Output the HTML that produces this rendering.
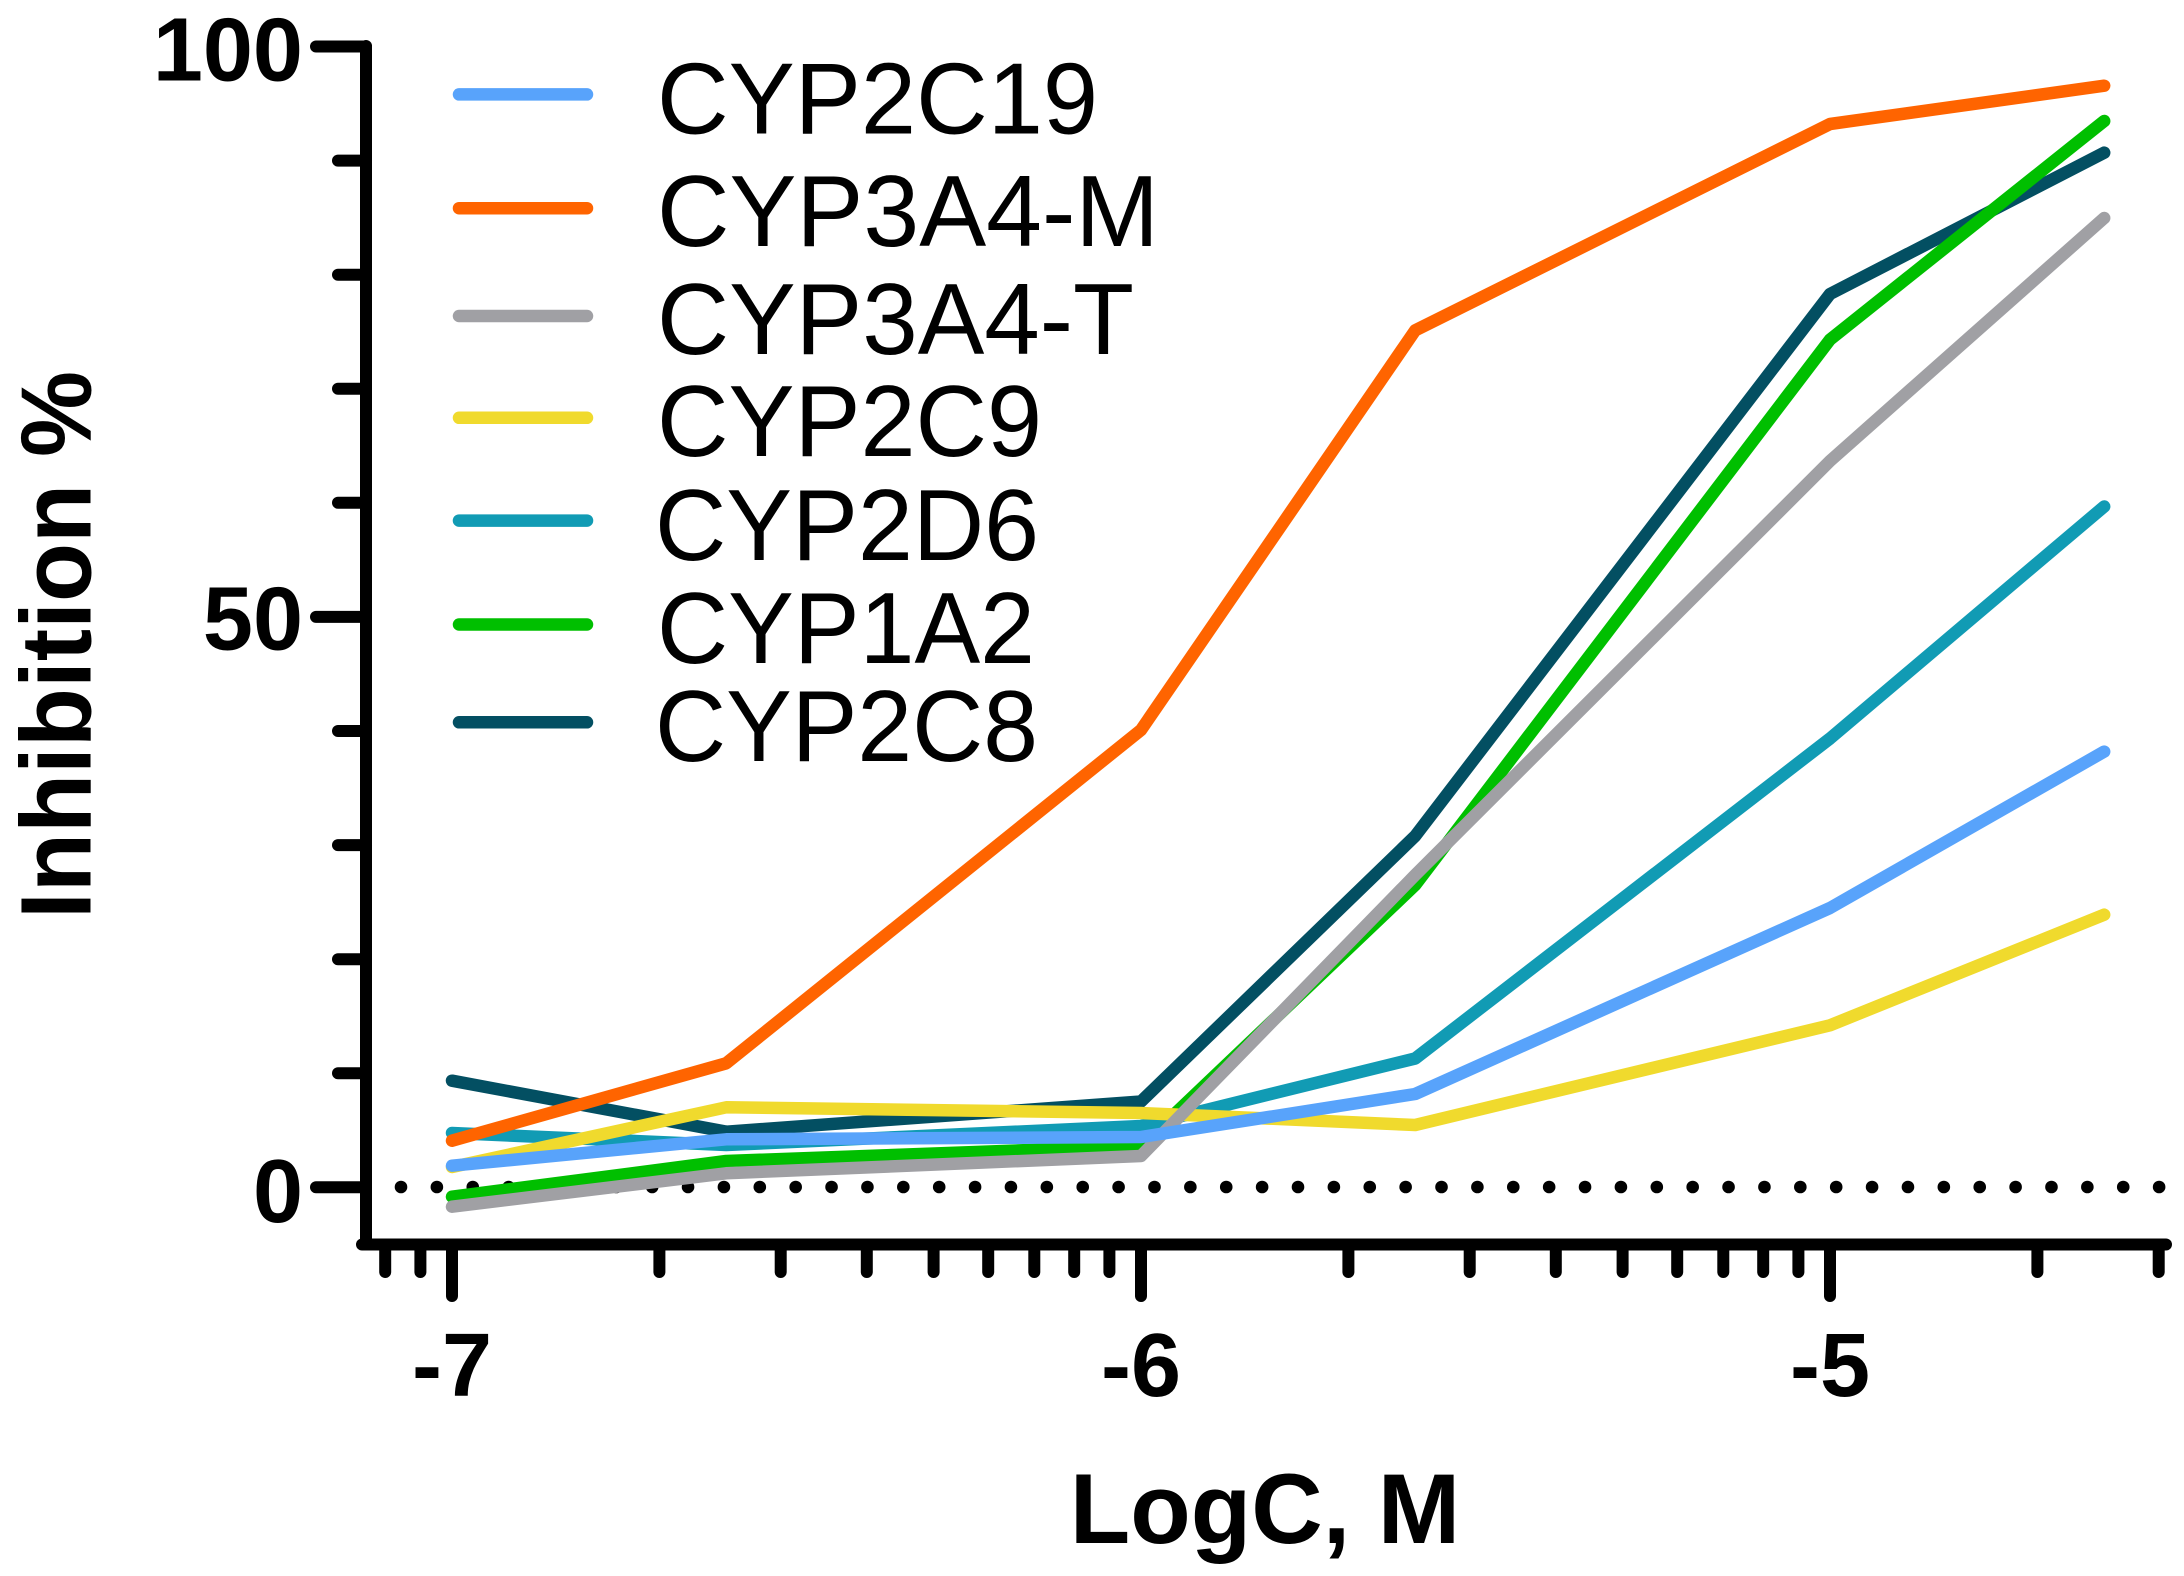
<!DOCTYPE html>
<html>
<head>
<meta charset="utf-8">
<style>
  html, body { margin: 0; padding: 0; background: #ffffff; }
  svg { display: block; }
  text { font-family: "Liberation Sans", Arial, sans-serif; fill: #000; }
</style>
</head>
<body>
<svg width="2184" height="1576" viewBox="0 0 2184 1576" xmlns="http://www.w3.org/2000/svg">
  <rect x="0" y="0" width="2184" height="1576" fill="#ffffff"/>

  <!-- dotted zero line -->
  <line x1="401" y1="1187" x2="2160" y2="1187" stroke="#000" stroke-width="12.6" stroke-linecap="round" stroke-dasharray="0 35.88"/>

  <!-- data series (drawn in reverse legend order) -->
  <g fill="none" stroke-width="12.5" stroke-linecap="round" stroke-linejoin="round">
    <!-- CYP2C8 -->
    <polyline stroke="#034F62" points="452,1080.7 726.2,1131.7 1141,1101.5 1415.2,836 1830,294 2104.2,152.7"/>
    <!-- CYP1A2 -->
    <polyline stroke="#00BF00" points="452,1196.7 726.2,1161 1141,1146 1415.2,885 1830,339.6 2104.2,121"/>
    <!-- CYP2D6 -->
    <polyline stroke="#119BB4" points="452,1133 726.2,1145 1141,1126 1415.2,1058.5 1830,738.5 2104.2,506.5"/>
    <!-- CYP2C9 -->
    <polyline stroke="#F0DA2D" points="452,1167 726.2,1107.3 1141,1113 1415.2,1125 1830,1025.3 2104.2,914.7"/>
    <!-- CYP3A4-T -->
    <polyline stroke="#A0A0A4" points="452,1206.7 726.2,1173.3 1141,1156 1415.2,875 1830,461 2104.2,218"/>
    <!-- CYP3A4-M -->
    <polyline stroke="#FF6400" points="452,1140.7 726.2,1063.3 1141,730 1415.2,330.4 1830,124 2104.2,85.7"/>
    <!-- CYP2C19 -->
    <polyline stroke="#58A3FB" points="452,1165.7 726.2,1139.3 1141,1137 1415.2,1094 1830,908 2104.2,751.6"/>
  </g>

  <!-- axes -->
  <g stroke="#000" stroke-width="12" stroke-linecap="round" fill="none">
    <line x1="366" y1="46" x2="366" y2="1244.5"/>
    <line x1="362" y1="1244.5" x2="2166" y2="1244.5"/>
    <!-- y major ticks -->
    <line x1="316" y1="46.5" x2="366" y2="46.5"/>
    <line x1="316" y1="616.9" x2="366" y2="616.9"/>
    <line x1="316" y1="1187.3" x2="366" y2="1187.3"/>
    <!-- y minor ticks -->
    <line x1="338" y1="160.6" x2="366" y2="160.6"/>
    <line x1="338" y1="274.7" x2="366" y2="274.7"/>
    <line x1="338" y1="388.7" x2="366" y2="388.7"/>
    <line x1="338" y1="502.8" x2="366" y2="502.8"/>
    <line x1="338" y1="731" x2="366" y2="731"/>
    <line x1="338" y1="845.1" x2="366" y2="845.1"/>
    <line x1="338" y1="959.2" x2="366" y2="959.2"/>
    <line x1="338" y1="1073.2" x2="366" y2="1073.2"/>
    <!-- x major ticks -->
    <line x1="452" y1="1244.5" x2="452" y2="1296"/>
    <line x1="1141" y1="1244.5" x2="1141" y2="1296"/>
    <line x1="1830" y1="1244.5" x2="1830" y2="1296"/>
    <!-- x minor ticks -->
    <line x1="385.2" y1="1244.5" x2="385.2" y2="1272"/>
    <line x1="420.4" y1="1244.5" x2="420.4" y2="1272"/>
    <line x1="659.4" y1="1244.5" x2="659.4" y2="1272"/>
    <line x1="780.7" y1="1244.5" x2="780.7" y2="1272"/>
    <line x1="866.8" y1="1244.5" x2="866.8" y2="1272"/>
    <line x1="933.6" y1="1244.5" x2="933.6" y2="1272"/>
    <line x1="988.2" y1="1244.5" x2="988.2" y2="1272"/>
    <line x1="1034.3" y1="1244.5" x2="1034.3" y2="1272"/>
    <line x1="1074.2" y1="1244.5" x2="1074.2" y2="1272"/>
    <line x1="1109.4" y1="1244.5" x2="1109.4" y2="1272"/>
    <line x1="1348.4" y1="1244.5" x2="1348.4" y2="1272"/>
    <line x1="1469.7" y1="1244.5" x2="1469.7" y2="1272"/>
    <line x1="1555.8" y1="1244.5" x2="1555.8" y2="1272"/>
    <line x1="1622.6" y1="1244.5" x2="1622.6" y2="1272"/>
    <line x1="1677.2" y1="1244.5" x2="1677.2" y2="1272"/>
    <line x1="1723.3" y1="1244.5" x2="1723.3" y2="1272"/>
    <line x1="1763.2" y1="1244.5" x2="1763.2" y2="1272"/>
    <line x1="1798.4" y1="1244.5" x2="1798.4" y2="1272"/>
    <line x1="2037.4" y1="1244.5" x2="2037.4" y2="1272"/>
    <line x1="2158.7" y1="1244.5" x2="2158.7" y2="1272"/>
  </g>

  <!-- y tick labels -->
  <g font-weight="bold" font-size="90" text-anchor="end">
    <text x="303" y="80.5">100</text>
    <text x="303" y="649.5">50</text>
    <text x="303" y="1222">0</text>
  </g>

  <!-- x tick labels -->
  <g font-weight="bold" font-size="90" text-anchor="middle">
    <text x="452" y="1396">-7</text>
    <text x="1141" y="1396">-6</text>
    <text x="1830" y="1396">-5</text>
  </g>

  <!-- axis titles -->
  <text x="1265" y="1543" font-weight="bold" font-size="99" text-anchor="middle">LogC, M</text>
  <text transform="translate(90.7,645) rotate(-90)" font-weight="bold" font-size="100" text-anchor="middle" textLength="548" lengthAdjust="spacingAndGlyphs">Inhibition %</text>

  <!-- legend lines -->
  <g stroke-width="12.5" stroke-linecap="round">
    <line x1="459" y1="94.4" x2="587" y2="94.4" stroke="#58A3FB"/>
    <line x1="459" y1="208.2" x2="587" y2="208.2" stroke="#FF6400"/>
    <line x1="459" y1="316" x2="587" y2="316" stroke="#A0A0A4"/>
    <line x1="459" y1="417.8" x2="587" y2="417.8" stroke="#F0DA2D"/>
    <line x1="459" y1="520.6" x2="587" y2="520.6" stroke="#119BB4"/>
    <line x1="459" y1="624.5" x2="587" y2="624.5" stroke="#00BF00"/>
    <line x1="459" y1="722.3" x2="587" y2="722.3" stroke="#034F62"/>
  </g>

  <!-- legend text -->
  <g font-size="101" lengthAdjust="spacingAndGlyphs">
    <text x="657" y="133.5" textLength="441" lengthAdjust="spacingAndGlyphs">CYP2C19</text>
    <text x="657" y="246" textLength="502" lengthAdjust="spacingAndGlyphs">CYP3A4-M</text>
    <text x="657" y="354" textLength="477" lengthAdjust="spacingAndGlyphs">CYP3A4-T</text>
    <text x="657" y="456" textLength="385" lengthAdjust="spacingAndGlyphs">CYP2C9</text>
    <text x="655" y="560" textLength="384" lengthAdjust="spacingAndGlyphs">CYP2D6</text>
    <text x="657" y="663" textLength="378" lengthAdjust="spacingAndGlyphs">CYP1A2</text>
    <text x="655" y="761" textLength="383" lengthAdjust="spacingAndGlyphs">CYP2C8</text>
  </g>
</svg>
</body>
</html>
